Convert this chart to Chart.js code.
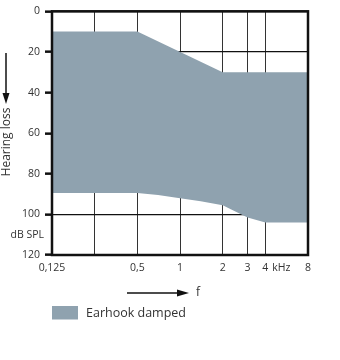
<!DOCTYPE html>
<html>
<head>
<meta charset="utf-8">
<script src="https://cdn.jsdelivr.net/npm/chart.js@4/dist/chart.umd.min.js"></script>
<style>
  html, body { margin: 0; padding: 0; background: #fff; }
</style>
</head>
<body>
<canvas id="chart" width="340" height="360"></canvas>
<script>
// frequency grid (kHz) and its labels
const xTicks = [0.125, 0.25, 0.5, 1, 2, 3, 4, 8];
const xTickLabels = ['0,125', '', '0,5', '1', '2', '3', '4', '8'];

// hearing loss range, dB SPL
const upperFreq = [0.125, 0.5, 2, 8];
const upperLoss = [10, 10, 30, 30];
const lowerFreq = [0.125, 0.5, 0.7, 1, 1.4, 2, 3, 4, 8];
const lowerLoss = [89.5, 89.5, 90.5, 92, 93.5, 95.5, 101.5, 104, 104];

const fillColor = '#8fa2af';
const FONT = 'Open Sans';

const toPoints = (xs, ys) => xs.map((x, i) => ({ x: x, y: ys[i] }));

// frame, axis captions, arrows and legend
const extras = {
  id: 'extras',
  afterDraw(chart) {
    const c = chart.ctx;
    const a = chart.chartArea;
    const xs = chart.scales.x;
    const ys = chart.scales.y;
    c.save();

    // frame
    c.strokeStyle = '#111';
    c.lineWidth = 2.5;
    c.strokeRect(a.left, a.top, a.right - a.left, a.bottom - a.top);

    c.fillStyle = '#333';
    c.textBaseline = 'middle';

    // dB SPL between 100 and 120
    c.font = '10.5px "' + FONT + '"';
    c.textAlign = 'right';
    c.fillText('dB SPL', a.left - 8, ys.getPixelForValue(110));

    // kHz after the 4
    c.textAlign = 'left';
    c.fillText('kHz', xs.getPixelForValue(4) + 7, a.bottom + 13);

    // y caption with arrow
    c.strokeStyle = '#111';
    c.fillStyle = '#111';
    c.lineWidth = 1.5;
    c.beginPath();
    c.moveTo(6, 53);
    c.lineTo(6, 95);
    c.stroke();
    c.beginPath();
    c.moveTo(2.5, 93);
    c.lineTo(9.5, 93);
    c.lineTo(6, 104);
    c.closePath();
    c.fill();

    c.save();
    c.translate(7, 142);
    c.rotate(-Math.PI / 2);
    c.textAlign = 'center';
    c.fillStyle = '#333';
    c.font = '12px "' + FONT + '"';
    c.fillText('Hearing loss', 0, 0);
    c.restore();

    // x caption with arrow
    c.beginPath();
    c.moveTo(127, 293);
    c.lineTo(180, 293);
    c.stroke();
    c.beginPath();
    c.moveTo(177, 289.5);
    c.lineTo(177, 296.5);
    c.lineTo(189, 293);
    c.closePath();
    c.fill();
    c.fillStyle = '#333';
    c.font = '12px "' + FONT + '"';
    c.textAlign = 'left';
    c.fillText('f', 196, 293);

    // legend
    const ds = chart.data.datasets[0];
    c.fillStyle = ds.backgroundColor;
    c.fillRect(52, 306, 26, 13.5);
    c.fillStyle = '#333';
    c.font = '12.5px "' + FONT + '"';
    c.fillText(ds.label, 86, 313);

    c.restore();
  }
};

new Chart(document.getElementById('chart'), {
  type: 'line',
  data: {
    datasets: [
      {
        label: 'Earhook damped',
        data: toPoints(upperFreq, upperLoss),
        backgroundColor: fillColor,
        borderWidth: 0,
        pointRadius: 0,
        tension: 0,
        fill: '+1'
      },
      {
        label: 'lower',
        data: toPoints(lowerFreq, lowerLoss),
        borderWidth: 0,
        pointRadius: 0,
        tension: 0,
        fill: false
      }
    ]
  },
  options: {
    responsive: false,
    animation: false,
    devicePixelRatio: 1,
    layout: { padding: { top: 6, right: 32, bottom: 75, left: 0 } },
    plugins: {
      legend: { display: false },
      tooltip: { enabled: false }
    },
    scales: {
      x: {
        type: 'logarithmic',
        min: 0.125,
        max: 8,
        z: 1,
        afterBuildTicks: s => { s.ticks = xTicks.map(v => ({ value: v })); },
        afterFit: s => { s.height = 30; },
        grid: { color: '#333', lineWidth: 1, drawTicks: false },
        border: { display: false },
        ticks: {
          autoSkip: false,
          maxRotation: 0,
          padding: 7,
          color: '#333',
          font: { family: FONT, size: 10.5 },
          callback: v => {
            const i = xTicks.indexOf(v);
            return i >= 0 ? xTickLabels[i] : '';
          }
        }
      },
      y: {
        reverse: true,
        min: 0,
        max: 120,
        z: 1,
        afterFit: s => { s.width = 52; },
        grid: { color: '#111', lineWidth: 1.3, tickColor: '#111', tickWidth: 2.5, tickLength: 7 },
        border: { display: false },
        ticks: {
          stepSize: 20,
          padding: 5,
          color: '#333',
          font: { family: FONT, size: 10.5 }
        }
      }
    }
  },
  plugins: [extras]
});
</script>
</body>
</html>
